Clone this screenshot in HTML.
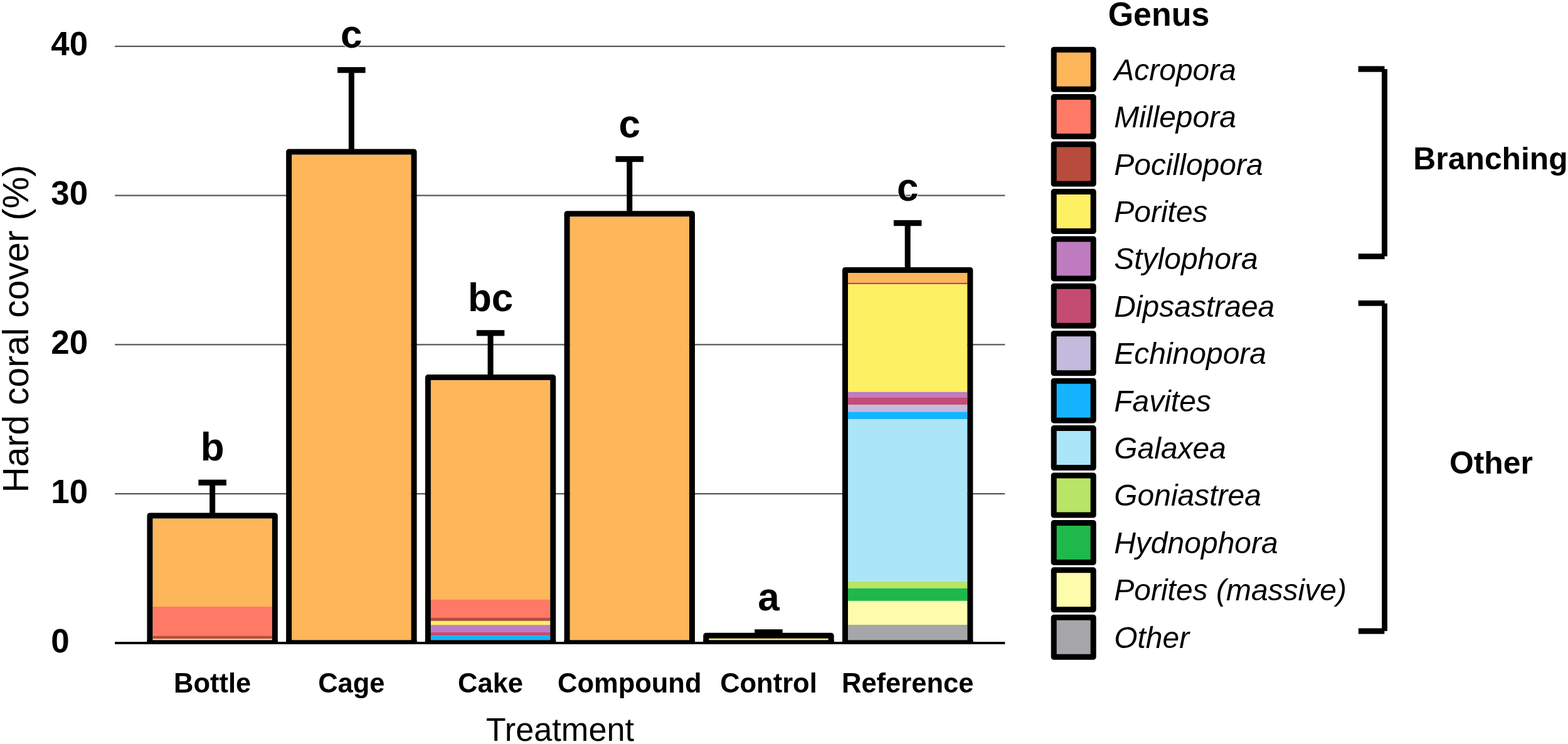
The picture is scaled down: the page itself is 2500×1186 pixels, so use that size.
<!DOCTYPE html>
<html><head><meta charset="utf-8"><title>Hard coral cover by treatment</title>
<style>html,body{margin:0;padding:0;background:#fff;}body{width:2500px;height:1186px;overflow:hidden;}svg{display:block;}text{font-family:"Liberation Sans",Arial,Helvetica,sans-serif;fill:#000;}</style></head><body>
<svg width="2500" height="1186" viewBox="0 0 2500 1186">
<rect x="0" y="0" width="2500" height="1186" fill="#fff"/>
<line x1="183.2" y1="787.05" x2="1602.3" y2="787.05" stroke="#585858" stroke-width="2.3"/>
<line x1="183.2" y1="549.30" x2="1602.3" y2="549.30" stroke="#585858" stroke-width="2.3"/>
<line x1="183.2" y1="311.55" x2="1602.3" y2="311.55" stroke="#585858" stroke-width="2.3"/>
<line x1="183.2" y1="73.80" x2="1602.3" y2="73.80" stroke="#585858" stroke-width="2.3"/>
<text x="81.2" y="1039.7" font-size="53" font-weight="bold">0</text>
<text x="81.2" y="801.7" font-size="53" font-weight="bold">10</text>
<text x="81.2" y="564.2" font-size="53" font-weight="bold">20</text>
<text x="81.2" y="326.3" font-size="53" font-weight="bold">30</text>
<text x="81.2" y="88.3" font-size="53" font-weight="bold">40</text>
<rect x="334.16" y="768.60" width="9" height="52.90" fill="#000"/>
<rect x="316.41" y="764.60" width="44.5" height="9.3" fill="#000"/>
<rect x="243.47" y="826.50" width="190.37" height="140.50" fill="#FDB659"/>
<rect x="243.47" y="967.00" width="190.37" height="46.40" fill="#FE7A66"/>
<rect x="243.47" y="1013.40" width="190.37" height="5.20" fill="#B84C3C"/>
<rect x="243.47" y="1018.60" width="190.37" height="1.70" fill="#FEF063"/>
<path d="M238.97 1024.00 V822.00 H438.34 V1024.00" fill="none" stroke="#000" stroke-width="9.0" stroke-linejoin="round"/>
<rect x="234.47" y="1020.30" width="208.37" height="6.50" fill="#000"/>
<text transform="translate(338.66 733.6) scale(1 1.015)" font-size="62" font-weight="bold" text-anchor="middle" stroke="#fff" stroke-width="2" paint-order="stroke">b</text>
<text x="338.66" y="1104" font-size="43.5" font-weight="bold" text-anchor="middle">Bottle</text>
<rect x="555.86" y="111.00" width="9" height="130.40" fill="#000"/>
<rect x="538.11" y="107.00" width="44.5" height="9.3" fill="#000"/>
<rect x="465.17" y="246.40" width="190.37" height="773.20" fill="#FDB659"/>
<rect x="465.17" y="1019.60" width="190.37" height="0.70" fill="#FE7A66"/>
<path d="M460.67 1024.00 V241.90 H660.04 V1024.00" fill="none" stroke="#000" stroke-width="9.0" stroke-linejoin="round"/>
<rect x="456.17" y="1020.30" width="208.37" height="6.50" fill="#000"/>
<text transform="translate(560.36 76.3) scale(1 1.030)" font-size="62" font-weight="bold" text-anchor="middle" stroke="#fff" stroke-width="2" paint-order="stroke">c</text>
<text x="560.36" y="1104" font-size="43.5" font-weight="bold" text-anchor="middle">Cage</text>
<rect x="777.56" y="530.20" width="9" height="70.90" fill="#000"/>
<rect x="759.81" y="526.20" width="44.5" height="9.3" fill="#000"/>
<rect x="686.87" y="606.10" width="190.37" height="349.30" fill="#FDB659"/>
<rect x="686.87" y="955.40" width="190.37" height="29.00" fill="#FE7A66"/>
<rect x="686.87" y="984.40" width="190.37" height="5.50" fill="#B84C3C"/>
<rect x="686.87" y="989.90" width="190.37" height="6.30" fill="#FEF063"/>
<rect x="686.87" y="996.20" width="190.37" height="11.80" fill="#BF7CC0"/>
<rect x="686.87" y="1008.00" width="190.37" height="5.20" fill="#C44C72"/>
<rect x="686.87" y="1013.20" width="190.37" height="7.10" fill="#16B3FE"/>
<path d="M682.37 1024.00 V601.60 H881.74 V1024.00" fill="none" stroke="#000" stroke-width="9.0" stroke-linejoin="round"/>
<rect x="677.87" y="1020.30" width="208.37" height="6.50" fill="#000"/>
<text transform="translate(782.06 495.6) scale(1 1.015)" font-size="62" font-weight="bold" text-anchor="middle" stroke="#fff" stroke-width="2" paint-order="stroke">bc</text>
<text x="782.06" y="1104" font-size="43.5" font-weight="bold" text-anchor="middle">Cake</text>
<rect x="999.25" y="252.90" width="9" height="87.40" fill="#000"/>
<rect x="981.50" y="248.90" width="44.5" height="9.3" fill="#000"/>
<rect x="908.57" y="345.30" width="190.37" height="675.00" fill="#FDB659"/>
<path d="M904.07 1024.00 V340.80 H1103.44 V1024.00" fill="none" stroke="#000" stroke-width="9.0" stroke-linejoin="round"/>
<rect x="899.57" y="1020.30" width="208.37" height="6.50" fill="#000"/>
<text transform="translate(1003.75 218.8) scale(1 1.030)" font-size="62" font-weight="bold" text-anchor="middle" stroke="#fff" stroke-width="2" paint-order="stroke">c</text>
<text x="1003.75" y="1104" font-size="43.5" font-weight="bold" text-anchor="middle">Compound</text>
<rect x="1220.95" y="1007.20" width="9" height="5.60" fill="#000"/>
<rect x="1203.20" y="1003.20" width="44.5" height="9.3" fill="#000"/>
<rect x="1130.27" y="1017.80" width="190.37" height="2.50" fill="#FEF063"/>
<path d="M1125.77 1024.00 V1013.30 H1325.14 V1024.00" fill="none" stroke="#000" stroke-width="9.0" stroke-linejoin="round"/>
<rect x="1121.27" y="1020.30" width="208.37" height="6.50" fill="#000"/>
<text transform="translate(1225.45 972.6) scale(1 1.030)" font-size="62" font-weight="bold" text-anchor="middle" stroke="#fff" stroke-width="2" paint-order="stroke">a</text>
<text x="1225.45" y="1104" font-size="43.5" font-weight="bold" text-anchor="middle">Control</text>
<rect x="1442.66" y="354.90" width="9" height="75.10" fill="#000"/>
<rect x="1424.91" y="350.90" width="44.5" height="9.3" fill="#000"/>
<rect x="1351.97" y="435.00" width="190.37" height="15.70" fill="#FDB659"/>
<rect x="1351.97" y="450.70" width="190.37" height="2.50" fill="#B84C3C"/>
<rect x="1351.97" y="453.20" width="190.37" height="171.60" fill="#FEF063"/>
<rect x="1351.97" y="624.80" width="190.37" height="8.50" fill="#BF7CC0"/>
<rect x="1351.97" y="633.30" width="190.37" height="11.70" fill="#C44C72"/>
<rect x="1351.97" y="645.00" width="190.37" height="11.40" fill="#C2BBDE"/>
<rect x="1351.97" y="656.40" width="190.37" height="11.60" fill="#16B3FE"/>
<rect x="1351.97" y="668.00" width="190.37" height="258.40" fill="#AAE6F7"/>
<rect x="1351.97" y="926.40" width="190.37" height="11.40" fill="#B8E565"/>
<rect x="1351.97" y="937.80" width="190.37" height="20.10" fill="#1FB84B"/>
<rect x="1351.97" y="957.90" width="190.37" height="38.10" fill="#FCFCAB"/>
<rect x="1351.97" y="996.00" width="190.37" height="24.30" fill="#A6A5AA"/>
<path d="M1347.47 1024.00 V430.50 H1546.84 V1024.00" fill="none" stroke="#000" stroke-width="9.0" stroke-linejoin="round"/>
<rect x="1342.97" y="1020.30" width="208.37" height="6.50" fill="#000"/>
<text transform="translate(1447.16 320.2) scale(1 1.030)" font-size="62" font-weight="bold" text-anchor="middle" stroke="#fff" stroke-width="2" paint-order="stroke">c</text>
<text x="1447.16" y="1104" font-size="43.5" font-weight="bold" text-anchor="middle">Reference</text>
<rect x="183.2" y="1023.1" width="1419.1" height="3.8" fill="#000"/>
<text transform="translate(892.95 1181.3) scale(1.005 1.01)" font-size="52" text-anchor="middle">Treatment</text>
<text transform="translate(45.0 524.1) rotate(-90)" x="0" y="0" font-size="57" text-anchor="middle">Hard coral cover (%)</text>
<text transform="translate(1847.5 41.0) scale(1 1.03)" font-size="52" font-weight="bold" text-anchor="middle">Genus</text>
<rect x="1680.20" y="79.20" width="63" height="63" fill="#FDB659" stroke="#000" stroke-width="9" stroke-linejoin="round"/>
<text x="1776.2" y="127.70" font-size="48" font-style="italic">Acropora</text>
<rect x="1680.20" y="154.62" width="63" height="63" fill="#FE7A66" stroke="#000" stroke-width="9" stroke-linejoin="round"/>
<text x="1776.2" y="203.12" font-size="48" font-style="italic">Millepora</text>
<rect x="1680.20" y="230.04" width="63" height="63" fill="#B84C3C" stroke="#000" stroke-width="9" stroke-linejoin="round"/>
<text x="1776.2" y="278.54" font-size="48" font-style="italic">Pocillopora</text>
<rect x="1680.20" y="305.46" width="63" height="63" fill="#FEF063" stroke="#000" stroke-width="9" stroke-linejoin="round"/>
<text x="1776.2" y="353.96" font-size="48" font-style="italic">Porites</text>
<rect x="1680.20" y="380.88" width="63" height="63" fill="#BF7CC0" stroke="#000" stroke-width="9" stroke-linejoin="round"/>
<text x="1776.2" y="429.38" font-size="48" font-style="italic">Stylophora</text>
<rect x="1680.20" y="456.30" width="63" height="63" fill="#C44C72" stroke="#000" stroke-width="9" stroke-linejoin="round"/>
<text x="1776.2" y="504.80" font-size="48" font-style="italic">Dipsastraea</text>
<rect x="1680.20" y="531.72" width="63" height="63" fill="#C2BBDE" stroke="#000" stroke-width="9" stroke-linejoin="round"/>
<text x="1776.2" y="580.22" font-size="48" font-style="italic">Echinopora</text>
<rect x="1680.20" y="607.14" width="63" height="63" fill="#16B3FE" stroke="#000" stroke-width="9" stroke-linejoin="round"/>
<text x="1776.2" y="655.64" font-size="48" font-style="italic">Favites</text>
<rect x="1680.20" y="682.56" width="63" height="63" fill="#AAE6F7" stroke="#000" stroke-width="9" stroke-linejoin="round"/>
<text x="1776.2" y="731.06" font-size="48" font-style="italic">Galaxea</text>
<rect x="1680.20" y="757.98" width="63" height="63" fill="#B8E565" stroke="#000" stroke-width="9" stroke-linejoin="round"/>
<text x="1776.2" y="806.48" font-size="48" font-style="italic">Goniastrea</text>
<rect x="1680.20" y="833.40" width="63" height="63" fill="#1FB84B" stroke="#000" stroke-width="9" stroke-linejoin="round"/>
<text x="1776.2" y="881.90" font-size="48" font-style="italic">Hydnophora</text>
<rect x="1680.20" y="908.82" width="63" height="63" fill="#FCFCAB" stroke="#000" stroke-width="9" stroke-linejoin="round"/>
<text x="1776.2" y="957.32" font-size="48" font-style="italic">Porites (massive)</text>
<rect x="1680.20" y="984.24" width="63" height="63" fill="#A6A5AA" stroke="#000" stroke-width="9" stroke-linejoin="round"/>
<text x="1776.2" y="1032.74" font-size="48" font-style="italic">Other</text>
<rect x="2165.60" y="105.40" width="41.90" height="9.30" fill="#000"/>
<rect x="2203.00" y="110.20" width="9.00" height="298.30" fill="#000"/>
<rect x="2165.70" y="404.30" width="41.90" height="8.90" fill="#000"/>
<rect x="2165.70" y="478.90" width="41.90" height="8.80" fill="#000"/>
<rect x="2203.20" y="483.70" width="8.80" height="522.20" fill="#000"/>
<rect x="2165.90" y="1001.50" width="41.40" height="9.10" fill="#000"/>
<text transform="translate(2376.55 270.1) scale(1.017 1.012)" font-size="49" font-weight="bold" text-anchor="middle">Branching</text>
<text transform="translate(2377.4 755.4) scale(1.017 1.012)" font-size="49" font-weight="bold" text-anchor="middle">Other</text>
</svg></body></html>
